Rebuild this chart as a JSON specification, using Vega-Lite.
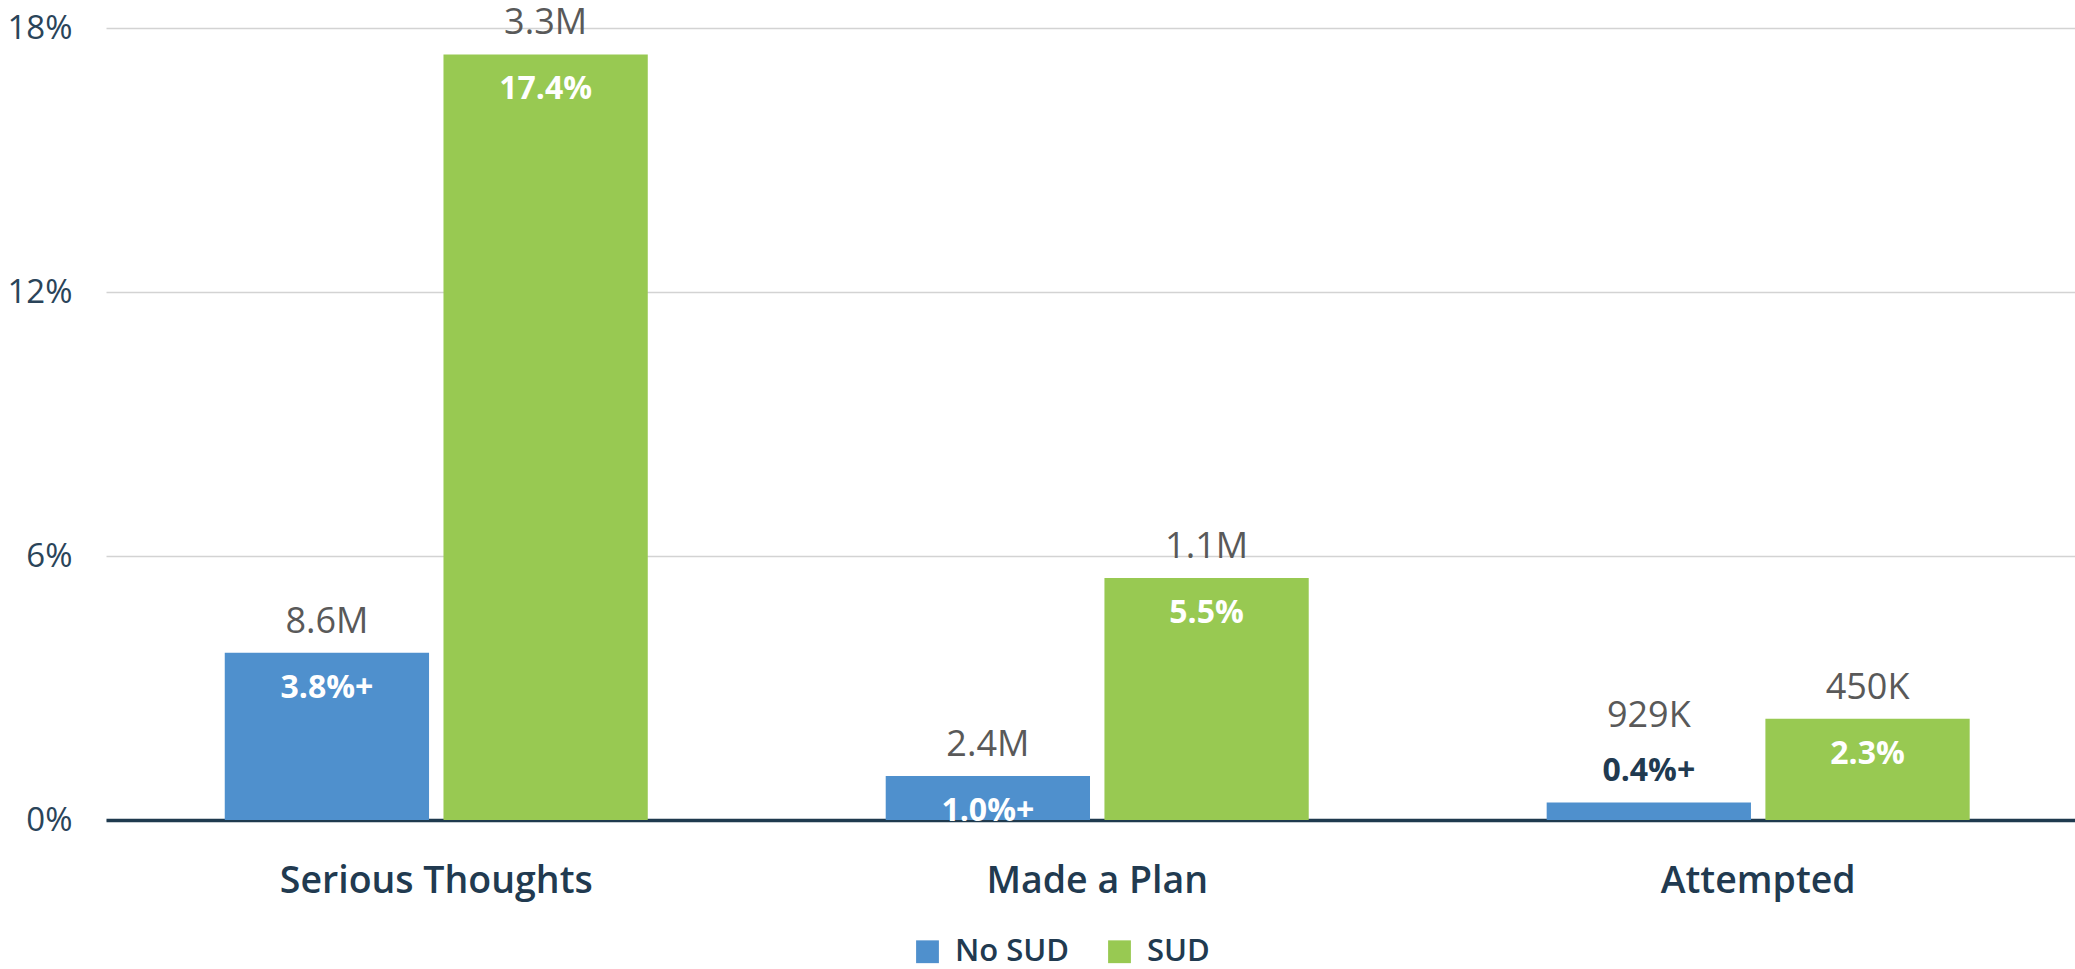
{
  "$schema": "https://vega.github.io/schema/vega-lite/v6.json",
  "autosize": "none",
  "width": 1969,
  "height": 792,
  "padding": {"left": 106, "top": 28, "right": 0, "bottom": 149},
  "background": "white",
  "config": {
    "view": {"stroke": null},
    "font": "Open Sans"
  },
  "data": {
    "values": [
      {"measure": "Serious Thoughts", "group": "No SUD", "pct": 3.8, "pctLabel": "3.8%+", "count": "8.6M"},
      {"measure": "Serious Thoughts", "group": "SUD", "pct": 17.4, "pctLabel": "17.4%", "count": "3.3M"},
      {"measure": "Made a Plan", "group": "No SUD", "pct": 1.0, "pctLabel": "1.0%+", "count": "2.4M"},
      {"measure": "Made a Plan", "group": "SUD", "pct": 5.5, "pctLabel": "5.5%", "count": "1.1M"},
      {"measure": "Attempted", "group": "No SUD", "pct": 0.4, "pctLabel": "0.4%+", "count": "929K"},
      {"measure": "Attempted", "group": "SUD", "pct": 2.3, "pctLabel": "2.3%", "count": "450K"}
    ]
  },
  "encoding": {
    "x": {
      "field": "measure", "type": "nominal", "sort": null,
      "scale": {"paddingInner": 0.36, "paddingOuter": 0.1695, "align": 0.53},
      "axis": {
        "title": null, "labelAngle": 0, "labelFontSize": 37.5, "labelFontWeight": 600,
        "labelColor": "#213A50", "labelPadding": 42, "labelLimit": 600, "ticks": false,
        "domainColor": "#1F3A4E", "domainWidth": 3.5
      }
    },
    "xOffset": {"field": "group", "type": "nominal", "scale": {"paddingInner": 0.066}},
    "y": {
      "field": "pct", "type": "quantitative",
      "scale": {"domain": [0, 18], "nice": false},
      "axis": {
        "title": null, "values": [0, 6, 12, 18], "labelExpr": "datum.value + '%'",
        "labelFontSize": 33, "labelColor": "#2A4459", "labelPadding": 34,
        "ticks": false, "domain": false, "gridColor": "#D3D3D3", "gridWidth": 1.5
      }
    }
  },
  "layer": [
    {
      "mark": {"type": "bar"},
      "encoding": {
        "color": {
          "field": "group", "type": "nominal",
          "scale": {"domain": ["No SUD", "SUD"], "range": ["#4F90CD", "#98C952"]},
          "legend": {
            "title": null, "orient": "none", "direction": "horizontal",
            "legendX": 806, "legendY": 908,
            "symbolType": "square", "symbolSize": 520, "symbolStrokeWidth": 0,
            "labelFontSize": 31, "labelColor": "#213A50", "labelFontWeight": 600,
            "labelOffset": 12, "columnPadding": 34
          }
        }
      }
    },
    {
      "transform": [{"filter": "datum.pct >= 1"}],
      "mark": {"type": "text", "baseline": "middle", "dy": 35, "fontSize": 32, "fontWeight": "bold", "color": "white"},
      "encoding": {"text": {"field": "pctLabel"}}
    },
    {
      "transform": [{"filter": "datum.pct < 1"}],
      "mark": {"type": "text", "baseline": "middle", "dy": -31, "fontSize": 32, "fontWeight": "bold", "color": "#213A50"},
      "encoding": {"text": {"field": "pctLabel"}}
    },
    {
      "transform": [{"filter": "datum.pct >= 1"}],
      "mark": {"type": "text", "baseline": "middle", "dy": -31, "fontSize": 36, "color": "#595959"},
      "encoding": {"text": {"field": "count"}}
    },
    {
      "transform": [{"filter": "datum.pct < 1"}],
      "mark": {"type": "text", "baseline": "middle", "dy": -86, "fontSize": 36, "color": "#595959"},
      "encoding": {"text": {"field": "count"}}
    }
  ]
}
